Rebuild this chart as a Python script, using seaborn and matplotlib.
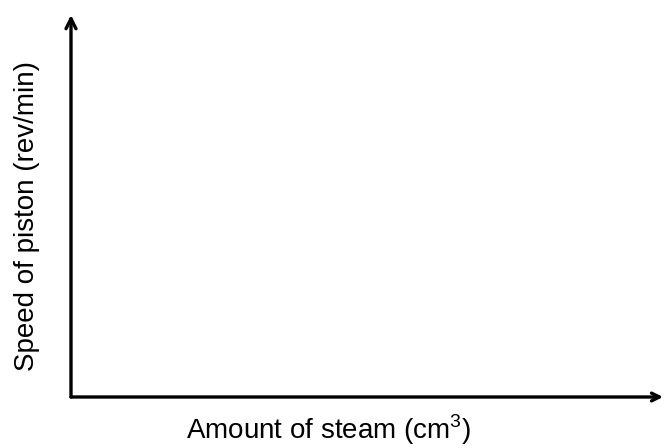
import matplotlib
matplotlib.use('Agg')
import matplotlib.pyplot as plt
import seaborn as sns

# Blank sketch axes: no plotted data, only labelled arrows
x_label = 'Amount of steam (cm$^3$)'
y_label = 'Speed of piston (rev/min)'
x_values = []
y_values = []

sns.set_style('white')
plt.rcParams['font.family'] = ['Liberation Sans', 'DejaVu Sans']
plt.rcParams['mathtext.fontset'] = 'custom'
plt.rcParams['mathtext.rm'] = 'Liberation Sans'

fig = plt.figure(figsize=(6.66, 4.48), dpi=100)
ax = fig.add_axes([71 / 666, 51 / 448, 1 - 71 / 666, 382 / 448])
sns.lineplot(x=x_values, y=y_values, ax=ax)
ax.set_xlim(0, 1)
ax.set_ylim(0, 1)
ax.set_xticks([])
ax.set_yticks([])
for s in ax.spines.values():
    s.set_visible(False)

# axis arrows
ax.annotate('', xy=(0, 1), xytext=(0, 0), xycoords='axes fraction',
            arrowprops=dict(arrowstyle='->', lw=2.4, color='black',
                            mutation_scale=18, shrinkA=0, shrinkB=0),
            annotation_clip=False)
ax.annotate('', xy=(0.995, 0), xytext=(0, 0), xycoords='axes fraction',
            arrowprops=dict(arrowstyle='->', lw=2.4, color='black',
                            mutation_scale=14, shrinkA=0, shrinkB=0),
            annotation_clip=False)

fig.text(329 / 666, 1 - 430 / 448, x_label, ha='center', va='center',
         fontsize=20, color='black')
fig.text(27 / 666, 1 - 216 / 448, y_label, ha='center', va='center',
         rotation=90, fontsize=20, color='black')

fig.savefig('out.png', dpi=100)
